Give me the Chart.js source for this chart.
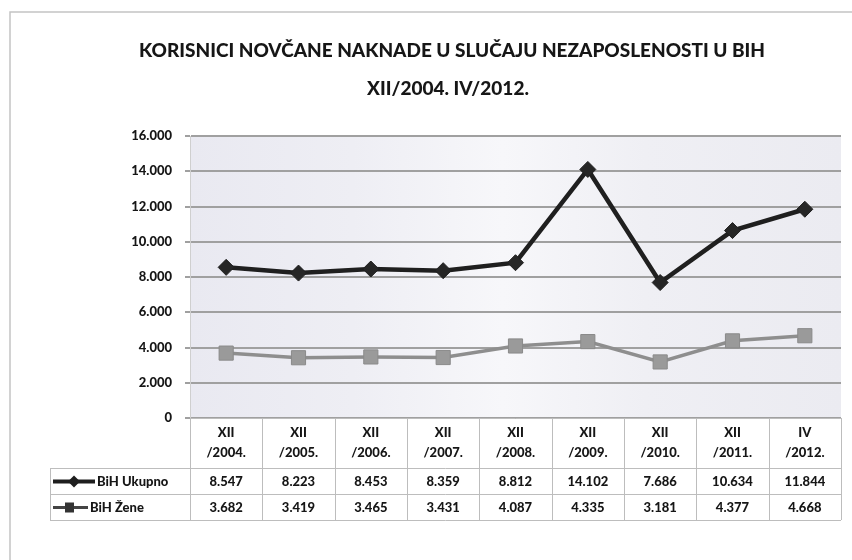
<!DOCTYPE html>
<html><head><meta charset="utf-8">
<script src="https://cdn.jsdelivr.net/npm/chart.js@4/dist/chart.umd.min.js"></script>
<style>html,body{margin:0;padding:0;background:#fff}#wrap{width:852px;height:560px}</style>
</head><body><div id="wrap"><canvas id="c" width="852" height="560"></canvas></div>
<script>
const titleLines = ['KORISNICI NOVČANE NAKNADE U SLUČAJU NEZAPOSLENOSTI U BIH', 'XII/2004. IV/2012.'];
const categories = ['XII /2004.', 'XII /2005.', 'XII /2006.', 'XII /2007.', 'XII /2008.', 'XII /2009.', 'XII /2010.', 'XII /2011.', 'IV /2012.'];
const seriesNames = ['BiH Ukupno', 'BiH Žene'];
const ukupno = [8547, 8223, 8453, 8359, 8812, 14102, 7686, 10634, 11844];
const zene = [3682, 3419, 3465, 3431, 4087, 4335, 3181, 4377, 4668];
const yMin = 0, yMax = 16000, yStep = 2000;

const FONT = 'Lato, "Liberation Sans", sans-serif';
function fmt(v) {
  const s = String(Math.round(v));
  return s.replace(/\B(?=(\d{3})+(?!\d))/g, '.');
}

const decor = {
  id: 'decor',
  beforeDraw(chart) {
    const ctx = chart.ctx, a = chart.chartArea;
    ctx.save();
    ctx.fillStyle = '#fff';
    ctx.fillRect(0, 0, chart.width, chart.height);
    ctx.strokeStyle = '#c4c4c4';
    ctx.lineWidth = 1.5;
    ctx.strokeRect(10, 12, 860, 570);
    const g = ctx.createLinearGradient(a.left, 0, a.right, 0);
    g.addColorStop(0, '#e9e9f1');
    g.addColorStop(0.25, '#eeeef4');
    g.addColorStop(0.48, '#f7f7fa');
    g.addColorStop(0.7, '#efeff4');
    g.addColorStop(1, '#ebebf1');
    ctx.fillStyle = g;
    ctx.fillRect(a.left, a.top, a.right - a.left, a.bottom - a.top);
    ctx.restore();
  },
  afterDraw(chart) {
    const ctx = chart.ctx, a = chart.chartArea, xs = chart.scales.x;
    ctx.save();
    ctx.fillStyle = '#161616';
    ctx.textAlign = 'center';
    ctx.textBaseline = 'middle';
    ctx.font = '900 19px ' + FONT;
    ctx.fillText(titleLines[0], 452, 51);
    ctx.fillText(titleLines[1], 448, 89);

    const n = categories.length;
    const colW = (a.right - a.left) / n;
    const hTop = a.bottom, hBot = 468, r1 = 494, r2 = 520, leftX = 50;
    ctx.strokeStyle = '#bdbdbd';
    ctx.lineWidth = 1;
    ctx.beginPath();
    for (let i = 0; i <= n; i++) {
      const x = Math.round(a.left + i * colW) + 0.5;
      ctx.moveTo(x, hTop); ctx.lineTo(x, r2);
    }
    ctx.moveTo(a.left, hTop + 0.5); ctx.lineTo(a.right, hTop + 0.5);
    [hBot, r1, r2].forEach(y => { ctx.moveTo(leftX, y + 0.5); ctx.lineTo(a.right, y + 0.5); });
    ctx.moveTo(leftX + 0.5, hBot); ctx.lineTo(leftX + 0.5, r2);
    ctx.stroke();

    ctx.fillStyle = '#161616';
    ctx.font = '900 13px ' + FONT;
    ctx.textAlign = 'center';
    for (let i = 0; i < n; i++) {
      const cx = xs.getPixelForValue(i);
      const parts = categories[i].split(' ');
      ctx.fillText(parts[0], cx, 433);
      ctx.fillText(parts[1], cx, 453);
      ctx.fillText(fmt(ukupno[i]), cx, 481.5);
      ctx.fillText(fmt(zene[i]), cx, 507.5);
    }
    ctx.textAlign = 'left';
    ctx.strokeStyle = '#1e1e1e'; ctx.lineWidth = 4;
    ctx.beginPath(); ctx.moveTo(53, 481.5); ctx.lineTo(95, 481.5); ctx.stroke();
    ctx.fillStyle = '#1e1e1e';
    ctx.beginPath(); ctx.moveTo(74, 475.5); ctx.lineTo(80, 481.5); ctx.lineTo(74, 487.5); ctx.lineTo(68, 481.5); ctx.closePath(); ctx.fill();
    ctx.fillStyle = '#161616';
    ctx.fillText(seriesNames[0], 97, 481.5);
    ctx.strokeStyle = '#444'; ctx.lineWidth = 3;
    ctx.beginPath(); ctx.moveTo(53, 507.5); ctx.lineTo(88, 507.5); ctx.stroke();
    ctx.fillStyle = '#333';
    ctx.fillRect(65, 502.5, 9, 10);
    ctx.fillStyle = '#161616';
    ctx.fillText(seriesNames[1], 90, 507.5);
    ctx.restore();
  }
};

new Chart(document.getElementById('c'), {
  type: 'line',
  data: {
    labels: categories,
    datasets: [
      { label: seriesNames[0], data: ukupno, borderColor: '#1f1f1f', backgroundColor: '#1f1f1f',
        borderWidth: 4.5, pointStyle: 'rectRot', pointRadius: 8, pointBorderWidth: 1,
        pointBorderColor: '#1f1f1f', pointBackgroundColor: '#262626', tension: 0 },
      { label: seriesNames[1], data: zene, borderColor: '#8e8e8e', backgroundColor: '#9a9a9a',
        borderWidth: 3.5, pointStyle: 'rect', pointRadius: 10, pointBorderWidth: 1,
        pointBorderColor: '#8a8a8a', pointBackgroundColor: '#9a9a9a', tension: 0 }
    ]
  },
  options: {
    responsive: false, animation: false, devicePixelRatio: 1,
    layout: { padding: { left: 0, right: 4, top: 136, bottom: 142 } },
    plugins: { legend: { display: false }, title: { display: false }, tooltip: { enabled: false } },
    scales: {
      x: { display: false, offset: true },
      y: {
        min: yMin, max: yMax,
        afterFit(s) { s.width = 190; },
        ticks: { stepSize: yStep, padding: 13, color: '#161616',
          font: { family: FONT, size: 13, weight: '900' },
          callback: v => fmt(v) },
        grid: { color: '#a0a0a0', lineWidth: 2, tickLength: 5 },
        border: { display: true, color: '#cfcfcf', width: 1 }
      }
    }
  },
  plugins: [decor]
});
</script>
</body></html>
